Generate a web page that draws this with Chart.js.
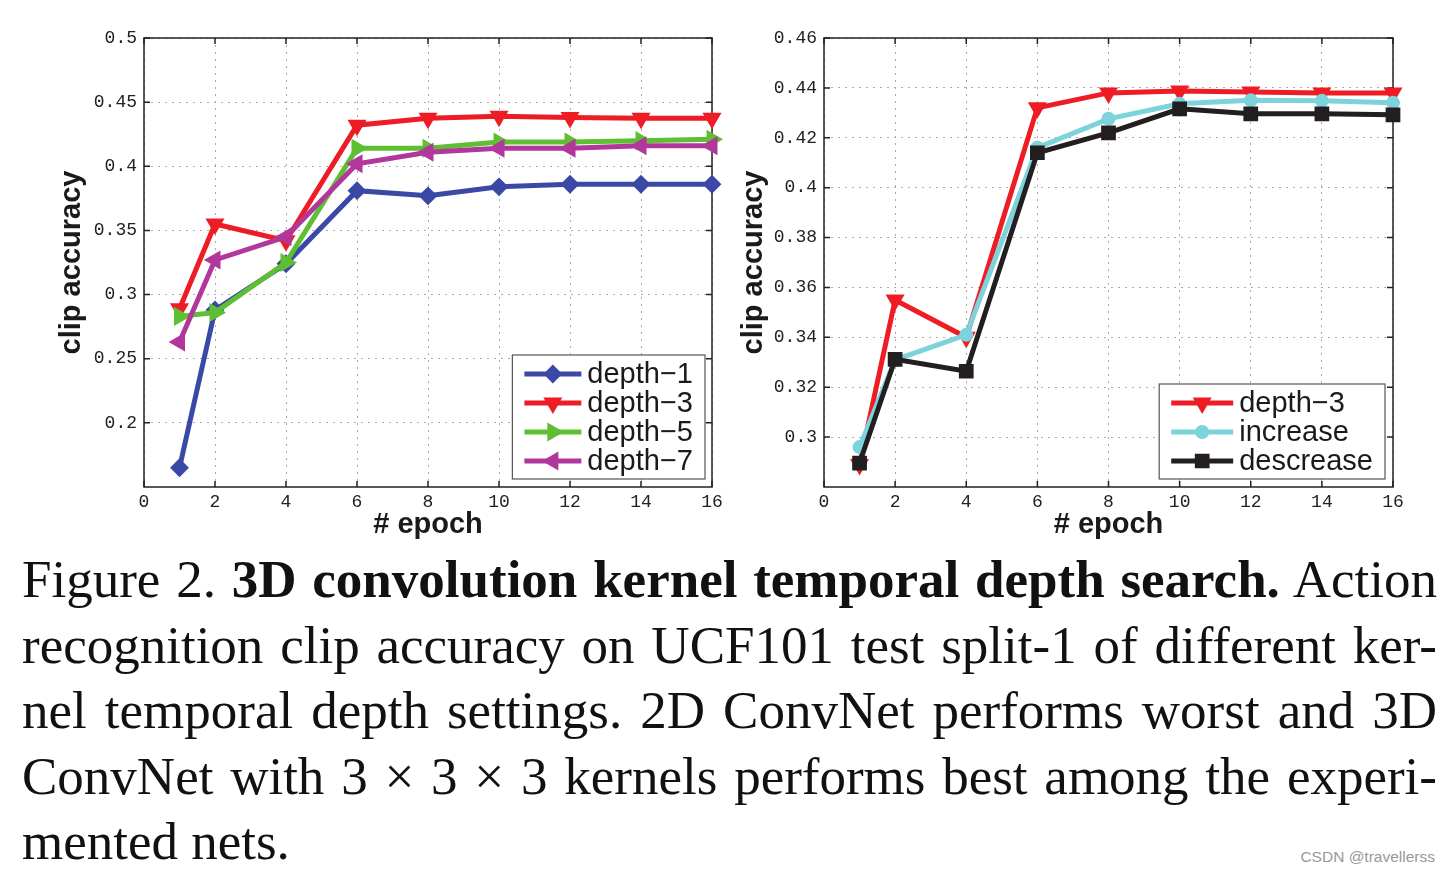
<!DOCTYPE html>
<html><head><meta charset="utf-8">
<script src="https://cdn.jsdelivr.net/npm/chart.js@4/dist/chart.umd.min.js"></script>
<style>
html,body{margin:0;padding:0;background:#fff;width:1451px;height:874px;overflow:hidden;position:relative;}
#c1{position:absolute;left:0;top:0;}
#c2{position:absolute;left:725px;top:0;}
#caption{position:absolute;left:22px;top:547px;width:1415px;font-family:"Liberation Serif","Times New Roman",serif;font-size:53px;line-height:65.5px;color:#111;}
.ln{text-align:justify;text-align-last:justify;}
.last{text-align:left;}
#wm{position:absolute;right:16px;top:848px;font-family:"Liberation Sans",Arial,sans-serif;font-size:15.5px;color:#999;}
</style></head>
<body>
<canvas id="c1" width="725" height="545"></canvas>
<canvas id="c2" width="726" height="545"></canvas>
<div id="caption">
<div class="ln">Figure 2. <b>3D convolution kernel temporal depth search.</b> Action</div>
<div class="ln">recognition clip accuracy on UCF101 test split-1 of different ker-</div>
<div class="ln">nel temporal depth settings. 2D ConvNet performs worst and 3D</div>
<div class="ln">ConvNet with 3 × 3 × 3 kernels performs best among the experi-</div>
<div class="last">mented nets.</div>
</div>
<div id="wm">CSDN @travellerss</div>
<script>
// ---------- data ----------
const epochs = [1, 2, 4, 6, 8, 10, 12, 14, 16];
const xTicks = [0, 2, 4, 6, 8, 10, 12, 14, 16];

// left panel
const depth1 = [0.165, 0.288, 0.324, 0.381, 0.377, 0.384, 0.386, 0.386, 0.386];
const depth3 = [0.289, 0.355, 0.342, 0.432, 0.4375, 0.439, 0.438, 0.4375, 0.4375];
const depth5 = [0.283, 0.286, 0.325, 0.414, 0.414, 0.419, 0.419, 0.420, 0.421];
const depth7 = [0.263, 0.327, 0.345, 0.402, 0.411, 0.414, 0.414, 0.416, 0.416];
const leftYTicks = [0.2, 0.25, 0.3, 0.35, 0.4, 0.45, 0.5];

// right panel
const rDepth3   = [0.289, 0.355, 0.340, 0.432, 0.438, 0.4388, 0.4384, 0.438, 0.438];
const rIncrease = [0.296, 0.331, 0.341, 0.416, 0.4276, 0.4336, 0.435, 0.4348, 0.434];
const rDecrease = [0.2896, 0.3312, 0.3264, 0.414, 0.422, 0.4316, 0.4296, 0.4296, 0.4292];
const rightYTicks = [0.3, 0.32, 0.34, 0.36, 0.38, 0.4, 0.42, 0.44, 0.46];

const xyPairs = vals => epochs.map((e, i) => ({x: e, y: vals[i]}));

// ---------- plugin: frame, inward ticks, legend ----------
const framePlugin = {
  id: 'frame',
  beforeDatasetsDraw(chart) {
    const {ctx, chartArea: a} = chart;
    const xs = chart.scales.x, ys = chart.scales.y;
    ctx.save();
    ctx.strokeStyle = '#222';
    ctx.lineWidth = 1.5;
    ctx.strokeRect(a.left, a.top, a.right - a.left, a.bottom - a.top);
    ctx.beginPath();
    xs.ticks.forEach(t => {
      const p = xs.getPixelForValue(t.value);
      ctx.moveTo(p, a.bottom); ctx.lineTo(p, a.bottom - 6);
      ctx.moveTo(p, a.top); ctx.lineTo(p, a.top + 6);
    });
    ys.ticks.forEach(t => {
      const p = ys.getPixelForValue(t.value);
      ctx.moveTo(a.left, p); ctx.lineTo(a.left + 6, p);
      ctx.moveTo(a.right, p); ctx.lineTo(a.right - 6, p);
    });
    ctx.stroke();
    ctx.restore();
  },
  afterDatasetsDraw(chart, args, opts) {
    const {ctx, chartArea: a} = chart;
    const ds = opts.items.map(i => chart.data.datasets[i]);
    ctx.save();
    ctx.font = '29px "Liberation Sans", Arial, sans-serif';
    const tw = Math.max(...ds.map(d => ctx.measureText(d.label).width));
    const rowH = 29;
    const L = opts.lineLen;
    const w = 12 + L + 6 + tw + 12;
    const h = 19 + (ds.length - 1) * rowH + 18;
    const right = a.right - opts.gapRight, bottom = a.bottom - opts.gapBottom;
    const left = right - w, top = bottom - h;
    ctx.fillStyle = '#fff';
    ctx.fillRect(left, top, w, h);
    ctx.strokeStyle = '#555';
    ctx.lineWidth = 1.2;
    ctx.strokeRect(left, top, w, h);
    ds.forEach((d, i) => {
      const cy = top + 19 + i * rowH;
      ctx.strokeStyle = d.borderColor;
      ctx.lineWidth = d.borderWidth;
      ctx.beginPath();
      ctx.moveTo(left + 12, cy); ctx.lineTo(left + 12 + L, cy);
      ctx.stroke();
      ctx.fillStyle = d.pointBackgroundColor;
      ctx.strokeStyle = d.borderColor;
      ctx.lineWidth = d.pointBorderWidth;
      Chart.helpers.drawPoint(ctx, {pointStyle: d.pointStyle, rotation: d.pointRotation, radius: d.pointRadius, borderWidth: d.pointBorderWidth}, left + 12 + L / 2, cy);
      ctx.fillStyle = '#1a1a1a';
      ctx.textBaseline = 'middle';
      ctx.textAlign = 'left';
      ctx.fillText(d.label, left + 18 + L, cy + 1);
    });
    ctx.restore();
  }
};

function series(label, data, color, style, rot, radius, order) {
  return {
    label, data: xyPairs(data), borderColor: color, backgroundColor: color,
    pointBackgroundColor: color, pointBorderColor: color, pointBorderWidth: 2,
    borderWidth: 5, pointStyle: style, pointRotation: rot, pointRadius: radius,
    pointHoverRadius: radius, tension: 0, clip: false, order
  };
}

const tickFont = {family: '"Liberation Mono", "DejaVu Sans Mono", monospace', size: 18};
const titleFont = {family: '"Liberation Sans", Arial, sans-serif', size: 29, weight: 'bold'};

function makeOptions(yMin, yMax, yTicks, yWidth, yTitlePad, padRight, legendOpts) {
  return {
    responsive: false, animation: false,
    layout: {padding: {top: 38, right: padRight, left: 0, bottom: 0}},
    plugins: {legend: {display: false}, tooltip: {enabled: false}, frame: legendOpts},
    scales: {
      x: {
        type: 'linear', min: 0, max: 16,
        afterBuildTicks: s => { s.ticks = xTicks.map(v => ({value: v})); },
        afterFit: s => { s.height = 58; s.paddingRight = 0; s.paddingLeft = 0; },
        ticks: {font: tickFont, color: '#222', padding: 4, autoSkip: false, maxRotation: 0, callback: v => String(v)},
        grid: {color: '#aaa', lineWidth: 1, drawTicks: false},
        border: {display: false, dash: [2, 5]},
        title: {display: true, text: '# epoch', font: titleFont, color: '#1a1a1a', padding: {top: 0, bottom: 3}}
      },
      y: {
        type: 'linear', min: yMin, max: yMax,
        afterBuildTicks: s => { s.ticks = yTicks.map(v => ({value: v})); },
        afterFit: s => { s.width = yWidth; s.paddingTop = 0; s.paddingBottom = 0; },
        ticks: {font: tickFont, color: '#222', padding: 7, autoSkip: false, callback: v => String(v)},
        grid: {color: '#aaa', lineWidth: 1, drawTicks: false},
        border: {display: false, dash: [2, 5]},
        title: {display: true, text: 'clip accuracy', font: titleFont, color: '#1a1a1a', padding: {top: yTitlePad, bottom: 0}}
      }
    }
  };
}

new Chart(document.getElementById('c1'), {
  type: 'line',
  data: {datasets: [
    series('depth\u22121', depth1, '#3a48a6', 'rectRot', 0, 8, 4),
    series('depth\u22123', depth3, '#ee1d25', 'triangle', 180, 9, 3),
    series('depth\u22125', depth5, '#5ebf33', 'triangle', 90, 9, 2),
    series('depth\u22127', depth7, '#b2379d', 'triangle', 270, 9, 1)
  ]},
  options: makeOptions(0.15, 0.5, leftYTicks, 144, 55, 13, {items: [0, 1, 2, 3], gapRight: 7, gapBottom: 8, lineLen: 57}),
  plugins: [framePlugin]
});

new Chart(document.getElementById('c2'), {
  type: 'line',
  data: {datasets: [
    series('depth\u22123', rDepth3, '#ee1d25', 'triangle', 180, 9, 3),
    series('increase', rIncrease, '#7cd3dc', 'circle', 0, 6, 2),
    series('descrease', rDecrease, '#231f20', 'rect', 0, 9, 1)
  ]},
  options: makeOptions(0.28, 0.46, rightYTicks, 99, 12, 58, {items: [0, 1, 2], gapRight: 8, gapBottom: 8, lineLen: 62}),
  plugins: [framePlugin]
});
</script>
</body></html>
